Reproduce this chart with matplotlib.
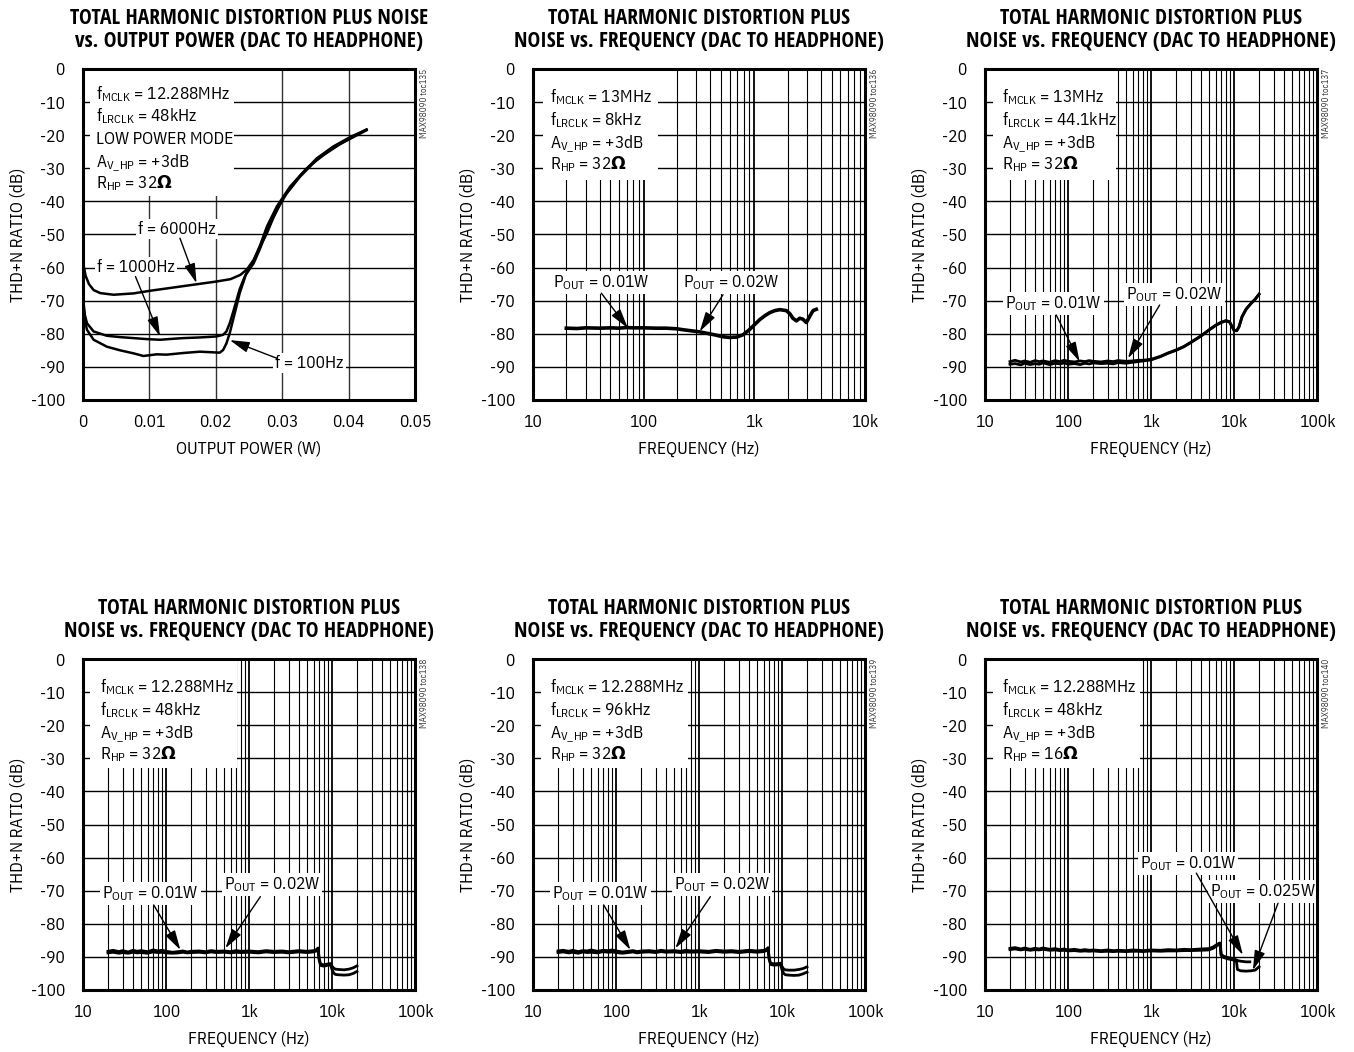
import matplotlib
matplotlib.use("Agg")
import matplotlib.pyplot as plt
from matplotlib.ticker import FixedLocator, FixedFormatter, NullFormatter, LogLocator
from matplotlib.patches import Rectangle

NARROW = ["IBM Plex Sans Condensed", "Liberation Sans", "DejaVu Sans"]
TITLE_FONT = ["Open Sans Condensed", "IBM Plex Sans Condensed", "DejaVu Sans"]
plt.rcParams["font.family"] = NARROW
plt.rcParams["mathtext.fontset"] = "custom"
plt.rcParams["mathtext.rm"] = "IBM Plex Sans Condensed"
plt.rcParams["mathtext.bf"] = "DejaVu Sans:bold"
plt.rcParams["mathtext.it"] = "IBM Plex Sans Condensed"

# ---- panel 1: THD+N vs output power ----
P6000_W = [0.0, 0.0001, 0.0004, 0.0009, 0.0016, 0.0026, 0.0046, 0.0076, 0.0101, 0.0151, 0.0201, 0.0222,
           0.0237, 0.0247, 0.0257, 0.0267, 0.0277, 0.0287, 0.0302, 0.0327, 0.0352, 0.0377, 0.0402, 0.0427]
P6000_DB = [-56.7, -59.5, -62.5, -65.0, -66.8, -67.7, -68.2, -67.8, -67.0, -65.6, -64.2, -63.5,
            -62.2, -60.5, -57.7, -53.6, -49.6, -44.8, -38.8, -32.2, -27.0, -23.4, -20.6, -18.3]
P1000_W = [0.0, 0.0001, 0.0003, 0.0006, 0.0016, 0.0036, 0.0056, 0.0076, 0.0096, 0.0116, 0.0136, 0.0151,
           0.0176, 0.0201, 0.0211, 0.0216, 0.0221, 0.0226, 0.0231, 0.0236, 0.0244, 0.0257, 0.0267, 0.0277,
           0.0292, 0.0307, 0.0327, 0.0352, 0.0377, 0.0402, 0.0427]
P1000_DB = [-66.0, -71.0, -74.5, -76.8, -79.3, -80.6, -81.0, -81.3, -81.6, -81.8, -81.5, -81.3,
            -81.1, -80.8, -80.3, -79.3, -76.8, -73.5, -70.0, -66.5, -62.5, -58.7, -54.1, -48.6,
            -42.5, -37.5, -32.5, -27.4, -23.9, -20.9, -18.3]
P100_W = [0.0, 0.0001, 0.0003, 0.0006, 0.0016, 0.0036, 0.0056, 0.0076, 0.0091, 0.0111, 0.0126, 0.0151,
          0.0176, 0.0196, 0.0206, 0.0211, 0.0216, 0.0221, 0.0226, 0.0231, 0.0236, 0.0246, 0.0257, 0.0267,
          0.0277, 0.0292, 0.0312, 0.0337, 0.0362, 0.0387, 0.0427]
P100_DB = [-68.0, -72.5, -76.0, -78.8, -81.8, -83.9, -85.0, -85.9, -86.7, -86.2, -86.3, -85.8,
           -85.4, -85.6, -85.7, -84.9, -82.9, -79.8, -75.8, -71.8, -67.7, -61.7, -57.8, -53.1,
           -47.6, -41.5, -35.5, -30.0, -26.0, -22.7, -18.5]

# ---- panel 2: 13MHz / 8kHz ----
F2 = [20, 25, 30, 40, 50, 60, 70, 80, 100, 130, 160, 200, 230, 270, 320, 380, 450, 520, 600, 690,
      790, 900, 1000, 1120, 1250, 1380, 1530, 1700, 1950, 2100, 2230, 2400, 2570, 2750, 2950, 3160, 3390, 3630]
DB2 = [-78.3, -78.4, -78.2, -78.3, -78.2, -78.3, -78.1, -78.2, -78.2, -78.3, -78.3, -78.5, -78.8, -79.1,
       -79.4, -79.9, -80.4, -80.9, -81.1, -81.0, -80.3, -78.8, -77.3, -75.7, -74.5, -73.6, -73.0, -72.7,
       -73.0, -74.0, -75.3, -76.1, -75.3, -75.6, -76.6, -74.8, -73.0, -72.6]

# ---- panel 3: 13MHz / 44.1kHz ----
F3 = [20, 23, 27, 30, 35, 40, 45, 50, 60, 70, 80, 90, 100, 120, 140, 160, 180, 200, 250, 300, 350, 400,
      500, 600, 700, 800, 1000, 1300, 1600, 2000, 2500, 3000, 4000, 5000, 6000, 7000, 8000, 8800, 9500,
      10000, 10800, 11500, 12500, 14000, 16000, 18000, 20000]
DB3_A = [-88.4, -88.0, -88.5, -88.2, -88.6, -88.1, -88.4, -88.2, -88.6, -88.1, -88.4, -88.0, -88.3, -88.5,
         -88.2, -88.4, -88.1, -88.3, -88.5, -88.2, -88.4, -88.1, -88.3, -88.2, -88.0, -88.0, -87.7, -86.8,
         -85.8, -84.9, -83.8, -82.6, -80.6, -78.8, -77.4, -76.5, -76.0, -76.3, -77.8, -78.9, -79.0, -77.8,
         -74.8, -72.5, -70.8, -69.5, -68.0]
DB3_B = [-89.2, -89.0, -89.4, -88.9, -89.3, -89.0, -89.2, -88.8, -89.3, -88.9, -89.1, -88.8, -89.2, -89.0,
         -89.3, -88.9, -89.1, -88.8, -89.0, -88.9, -89.1, -88.7, -88.9, -88.6, -88.4, -88.2, -87.9, -86.9,
         -85.9, -85.0, -83.9, -82.7, -80.7, -78.9, -77.5, -76.6, -76.1, -76.4, -77.9, -79.0, -79.1, -77.9,
         -74.9, -72.6, -70.9, -69.6, -68.1]

# ---- panels 4 and 5: 12.288MHz / 48kHz and 96kHz, 32 ohm ----
F45 = [20, 23, 27, 30, 35, 40, 45, 50, 60, 70, 80, 90, 100, 120, 140, 160, 180, 200, 250, 300, 350, 400,
       500, 600, 700, 800, 1000, 1300, 1600, 2000, 2500, 3000, 4000, 5000, 6000, 6500, 6800, 7000, 7300,
       8000, 9000, 9600, 10000, 10500, 11000, 12000, 14000, 16000, 18000, 20000]
DB4_A = [-88.3, -88.0, -88.4, -88.1, -88.5, -88.0, -88.3, -88.1, -88.4, -87.9, -88.2, -88.0, -88.3, -88.6,
         -88.4, -88.2, -88.5, -88.3, -88.2, -88.4, -88.1, -88.3, -88.2, -88.4, -88.1, -88.3, -88.2, -88.4,
         -88.1, -88.3, -88.2, -88.4, -88.1, -88.3,
         -88.1, -87.8, -87.3, -90.5, -92.2, -92.4, -92.1, -92.0, -92.8, -93.4, -93.7, -93.8, -93.9, -93.7,
         -93.3, -92.7]
DB4_B = [-88.8, -88.6, -88.9, -88.7, -88.9, -88.6, -88.8, -88.7, -88.9, -88.5, -88.7, -88.6, -88.8, -88.9,
         -88.8, -88.6, -88.8, -88.7, -88.6, -88.8, -88.5, -88.7, -88.6, -88.8, -88.6, -88.7, -88.6, -88.8,
         -88.5, -88.7, -88.6, -88.8, -88.5, -88.7,
         -88.5, -88.2, -87.7, -91.0, -92.6, -92.8, -92.5, -92.4, -93.8, -94.9, -95.3, -95.4, -95.5, -95.4,
         -95.0, -94.4]
DB5_A = [-88.2, -88.0, -88.3, -88.0, -88.4, -88.1, -88.2, -87.9, -88.3, -88.0, -88.1, -87.9, -88.2, -88.5,
         -88.3, -88.1, -88.4, -88.2, -88.1, -88.3, -88.0, -88.2, -88.1, -88.3, -88.0, -88.2, -88.1, -88.3,
         -88.0, -88.2, -88.1, -88.3, -88.0, -88.2,
         -88.0, -87.7, -87.2, -90.4, -91.9, -92.1, -92.0, -91.9, -92.9, -93.7, -93.9, -94.0, -94.0, -93.8,
         -93.5, -93.0]
DB5_B = [-88.7, -88.5, -88.8, -88.6, -88.9, -88.5, -88.7, -88.6, -88.8, -88.4, -88.6, -88.5, -88.7, -88.9,
         -88.7, -88.5, -88.8, -88.6, -88.5, -88.7, -88.4, -88.6, -88.5, -88.7, -88.5, -88.6, -88.5, -88.7,
         -88.4, -88.6, -88.5, -88.7, -88.4, -88.6,
         -88.4, -88.1, -87.6, -90.8, -92.3, -92.5, -92.4, -92.3, -93.9, -95.0, -95.4, -95.5, -95.6, -95.5,
         -95.1, -94.6]

# ---- panel 6: 12.288MHz / 48kHz, 16 ohm ----
F6_A = [20, 23, 27, 30, 35, 40, 45, 50, 60, 70, 80, 90, 100, 120, 140, 160, 180, 200, 250, 300, 350, 400,
        500, 600, 700, 800, 1000, 1300, 1600, 2000, 2500, 3000, 4000, 5000, 5600, 6200, 6600, 6800, 7000,
        7500, 8500, 9700, 10700, 11000, 12000, 14000, 15500]
DB6_A = [-87.4, -87.2, -87.6, -87.3, -87.7, -87.4, -87.6, -87.3, -87.7, -87.5, -87.8, -87.6, -87.9, -87.7,
         -88.0, -87.8, -88.0, -87.9, -88.1, -87.9, -88.1, -88.0, -88.1, -87.9, -88.0, -88.1, -87.9, -88.0,
         -87.8, -87.9, -87.7, -87.8, -87.6, -87.5,
         -87.0, -86.3, -85.9, -85.8, -89.2, -89.8, -90.2, -90.5, -90.9, -91.1, -91.3, -91.5, -91.5]
F6_B = [20, 23, 27, 30, 35, 40, 45, 50, 60, 70, 80, 90, 100, 120, 140, 160, 180, 200, 250, 300, 350, 400,
        500, 600, 700, 800, 1000, 1300, 1600, 2000, 2500, 3000, 4000, 5000, 5600, 6200, 6600, 6800, 7000,
        7500, 8500, 9700, 10700, 11000, 12000, 14000, 16000, 18000, 20000]
DB6_B = [-87.8, -87.6, -87.9, -87.7, -88.0, -87.8, -87.9, -87.7, -88.0, -87.9, -88.1, -88.0, -88.2, -88.1,
         -88.3, -88.2, -88.3, -88.2, -88.4, -88.3, -88.4, -88.3, -88.4, -88.3, -88.3, -88.4, -88.2, -88.3,
         -88.2, -88.2, -88.1, -88.1, -88.0, -87.9,
         -87.4, -86.7, -86.2, -86.1, -89.6, -90.2, -90.6, -90.9, -91.3, -93.8, -94.2, -94.3, -94.2, -94.0,
         -93.0]

TITLE_P = "TOTAL HARMONIC DISTORTION PLUS NOISE\nvs. OUTPUT POWER (DAC TO HEADPHONE)"
TITLE_F = "TOTAL HARMONIC DISTORTION PLUS\nNOISE vs. FREQUENCY (DAC TO HEADPHONE)"
Y_TICKS = [0, -10, -20, -30, -40, -50, -60, -70, -80, -90, -100]
P_TICKS = [0, 0.01, 0.02, 0.03, 0.04, 0.05]
P_LABELS = ["0", "0.01", "0.02", "0.03", "0.04", "0.05"]
F_TICKS = [10, 100, 1000, 10000, 100000]
F_LABELS = ["10", "100", "1k", "10k", "100k"]

MCLK_12 = r"f$_{\mathrm{MCLK}}$ = 12.288MHz"
MCLK_13 = r"f$_{\mathrm{MCLK}}$ = 13MHz"
AV = r"A$_{\mathrm{V\_HP}}$ = +3dB"
R32 = r"R$_{\mathrm{HP}}$ = 32$\mathbf{\Omega}$"
R16 = r"R$_{\mathrm{HP}}$ = 16$\mathbf{\Omega}$"

FS = 12.5
W, H = 1354, 1052
fig = plt.figure(figsize=(W / 100, H / 100), dpi=100)

lefts = [83, 533, 985]
tops = [69, 659]
AW, AH = 332, 331


def make_ax(col, row):
    l = lefts[col] / W
    b = 1 - (tops[row] + AH) / H
    return fig.add_axes([l, b, AW / W, AH / H])


def style(ax, title, tag, logx):
    ax.set_ylim(-100, 0)
    ax.set_yticks(Y_TICKS)
    ax.set_yticklabels([str(t) for t in Y_TICKS])
    if logx:
        ax.set_xscale("log")
        ax.xaxis.set_minor_locator(LogLocator(base=10, subs=range(2, 10), numticks=20))
        ax.xaxis.set_minor_formatter(NullFormatter())
        ax.grid(True, which="minor", axis="x", color="black", lw=0.8)
        ax.grid(True, which="major", axis="x", color="black", lw=1.3)
        ax.set_xlabel("FREQUENCY (Hz)", fontsize=FS, labelpad=8)
    else:
        ax.grid(True, which="major", axis="x", color="#333333", lw=1.0)
        ax.set_xlabel("OUTPUT POWER (W)", fontsize=FS, labelpad=8)
    ax.grid(True, which="major", axis="y", color="black", lw=1.0)
    ax.set_axisbelow(True)
    ax.tick_params(which="both", length=0, labelsize=FS)
    ax.tick_params(axis="y", pad=13)
    ax.tick_params(axis="x", pad=10)
    for s in ax.spines.values():
        s.set_linewidth(2.2)
        s.set_zorder(5)
    ax.set_ylabel("THD+N RATIO (dB)", fontsize=FS, labelpad=4)
    ax.set_title(title, fontsize=15.5, fontweight="bold", pad=16, linespacing=1.1,
                 family=TITLE_FONT)
    ax.text(1.015, 1.0, "MAX98090 " + tag, transform=ax.transAxes, rotation=90, fontsize=6.5,
            color="#333333", ha="left", va="top")


def param_box(ax, lines, x0, x1, ybot, xt, ys):
    ax.add_patch(Rectangle((x0, ybot), x1 - x0, 1.0 - ybot, transform=ax.transAxes,
                           facecolor="white", edgecolor="none", zorder=1.5))
    for txt, y in zip(lines, ys):
        ax.text(xt, y, txt, transform=ax.transAxes, fontsize=FS, va="baseline", ha="left", zorder=3)


def label(ax, txt, pos, tail, head):
    ax.text(pos[0], pos[1], txt, fontsize=FS, ha="center", va="center", zorder=3,
            bbox=dict(facecolor="white", edgecolor="none", pad=1.5))
    ax.annotate("", xy=head, xytext=tail, zorder=4,
                arrowprops=dict(arrowstyle="-|>,head_length=0.8,head_width=0.22", lw=1.0,
                                color="black", shrinkA=0, shrinkB=0, mutation_scale=15))


POUT1 = r"P$_{\mathrm{OUT}}$ = 0.01W"
POUT2 = r"P$_{\mathrm{OUT}}$ = 0.02W"
POUT25 = r"P$_{\mathrm{OUT}}$ = 0.025W"
YS5 = [0.909, 0.841, 0.774, 0.706, 0.640]
YS4 = [0.899, 0.831, 0.764, 0.696]

# panel 1
ax = make_ax(0, 0)
style(ax, TITLE_P, "toc135", False)
ax.set_xlim(0, 0.05)
ax.set_xticks(P_TICKS)
ax.set_xticklabels(P_LABELS)
ax.plot(P6000_W, P6000_DB, color="black", lw=1.8, zorder=2)
ax.plot(P1000_W, P1000_DB, color="black", lw=1.8, zorder=2)
ax.plot(P100_W, P100_DB, color="black", lw=1.8, zorder=2)
param_box(ax, [MCLK_12, r"f$_{\mathrm{LRCLK}}$ = 48kHz", "LOW POWER MODE", AV, R32],
          0.022, 0.455, 0.615, 0.040, YS5)
label(ax, "f = 6000Hz", (0.0142, -48.4), (0.0146, -51.1), (0.0171, -64.7))
label(ax, "f = 1000Hz", (0.0080, -59.7), (0.0079, -62.7), (0.0116, -80.8))
label(ax, "f = 100Hz", (0.0341, -88.9), (0.0292, -87.4), (0.0221, -81.9))

# panel 2
ax = make_ax(1, 0)
style(ax, TITLE_F, "toc136", True)
ax.set_xlim(10, 10000)
ax.xaxis.set_major_locator(FixedLocator(F_TICKS[:4]))
ax.xaxis.set_major_formatter(FixedFormatter(F_LABELS[:4]))
ax.plot(F2, DB2, color="black", lw=2.6, zorder=2)
param_box(ax, [MCLK_13, r"f$_{\mathrm{LRCLK}}$ = 8kHz", AV, R32], 0.03, 0.377, 0.665, 0.05, YS4)
label(ax, POUT1, (41, -64.5), (41.4, -67.7), (72, -78.3))
label(ax, POUT2, (620, -64.5), (521, -68.2), (321, -79.3))

# panel 3
ax = make_ax(2, 0)
style(ax, TITLE_F, "toc137", True)
ax.set_xlim(10, 100000)
ax.xaxis.set_major_locator(FixedLocator(F_TICKS))
ax.xaxis.set_major_formatter(FixedFormatter(F_LABELS))
ax.plot(F3, DB3_A, color="black", lw=2.0, zorder=2)
ax.plot(F3, DB3_B, color="black", lw=2.0, zorder=2)
param_box(ax, [MCLK_13, r"f$_{\mathrm{LRCLK}}$ = 44.1kHz", AV, R32], 0.024, 0.396, 0.665, 0.05, YS4)
label(ax, POUT1, (67, -70.8), (72, -74.3), (138, -88.4))
label(ax, POUT2, (1928, -68.2), (1271, -71.3), (528, -87.4))

# panel 4
ax = make_ax(0, 1)
style(ax, TITLE_F, "toc138", True)
ax.set_xlim(10, 100000)
ax.xaxis.set_major_locator(FixedLocator(F_TICKS))
ax.xaxis.set_major_formatter(FixedFormatter(F_LABELS))
ax.plot(F45, DB4_A, color="black", lw=2.0, zorder=2)
ax.plot(F45, DB4_B, color="black", lw=2.0, zorder=2)
param_box(ax, [MCLK_12, r"f$_{\mathrm{LRCLK}}$ = 48kHz", AV, R32], 0.022, 0.464, 0.67, 0.05, YS4)
label(ax, POUT1, (65, -70.8), (71, -74.3), (149, -87.9))
label(ax, POUT2, (1893, -68.2), (1371, -71.8), (519, -87.4))

# panel 5
ax = make_ax(1, 1)
style(ax, TITLE_F, "toc139", True)
ax.set_xlim(10, 100000)
ax.xaxis.set_major_locator(FixedLocator(F_TICKS))
ax.xaxis.set_major_formatter(FixedFormatter(F_LABELS))
ax.plot(F45, DB5_A, color="black", lw=2.0, zorder=2)
ax.plot(F45, DB5_B, color="black", lw=2.0, zorder=2)
param_box(ax, [MCLK_12, r"f$_{\mathrm{LRCLK}}$ = 96kHz", AV, R32], 0.025, 0.468, 0.67, 0.05, YS4)
label(ax, POUT1, (65, -70.8), (71, -74.3), (149, -87.9))
label(ax, POUT2, (1893, -68.2), (1371, -71.8), (519, -87.4))

# panel 6
ax = make_ax(2, 1)
style(ax, TITLE_F, "toc140", True)
ax.set_xlim(10, 100000)
ax.xaxis.set_major_locator(FixedLocator(F_TICKS))
ax.xaxis.set_major_formatter(FixedFormatter(F_LABELS))
ax.plot(F6_A, DB6_A, color="black", lw=2.0, zorder=2)
ax.plot(F6_B, DB6_B, color="black", lw=2.0, zorder=2)
param_box(ax, [MCLK_12, r"f$_{\mathrm{LRCLK}}$ = 48kHz", AV, R16], 0.024, 0.466, 0.67, 0.05, YS4)
label(ax, POUT1, (2790, -61.9), (3516, -64.7), (12800, -89.4))
label(ax, POUT25, (22300, -70.3), (33900, -73.8), (16900, -94.0))

fig.savefig("out.png", dpi=100)
